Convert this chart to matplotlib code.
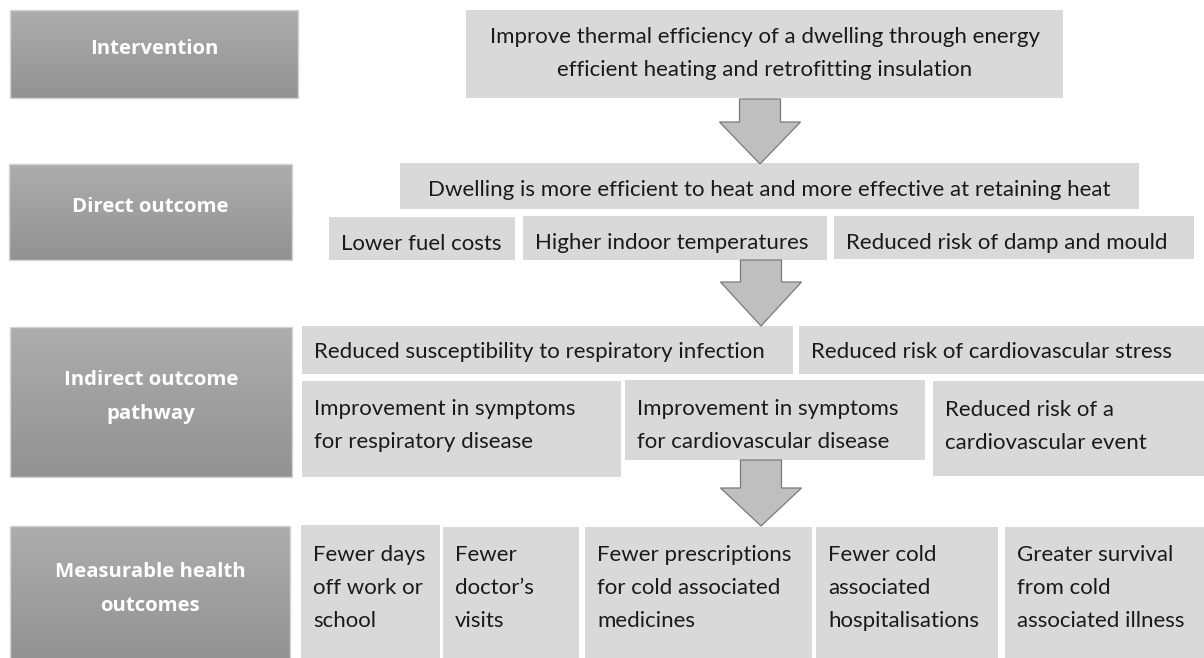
import numpy as np
import matplotlib
matplotlib.use("Agg")
import matplotlib.pyplot as plt
from matplotlib.patches import Rectangle, Polygon
from matplotlib.colors import LinearSegmentedColormap

# ── Content ──────────────────────────────────────────────────────────────────
stage_labels = [
    "Intervention",
    "Direct outcome",
    "Indirect outcome\npathway",
    "Measurable health\noutcomes",
]

intervention_text = ["Improve thermal efficiency of a dwelling through energy\nefficient heating and retrofitting insulation"]
direct_text = [
    "Dwelling is more efficient to heat and more effective at retaining heat",
    "Lower fuel costs",
    "Higher indoor temperatures",
    "Reduced risk of damp and mould",
]
indirect_text = [
    "Reduced susceptibility to respiratory infection",
    "Reduced risk of cardiovascular stress",
    "Improvement in symptoms\nfor respiratory disease",
    "Improvement in symptoms\nfor cardiovascular disease",
    "Reduced risk of a\ncardiovascular event",
]
health_text = [
    "Fewer days\noff work or\nschool",
    "Fewer\ndoctor\u2019s\nvisits",
    "Fewer prescriptions\nfor cold associated\nmedicines",
    "Fewer cold\nassociated\nhospitalisations",
    "Greater survival\nfrom cold\nassociated illness",
]

# ── Layout (pixels, origin top-left) ─────────────────────────────────────────
W, H = 1204, 658
stage_boxes = [(10, 10, 298, 98), (9, 164, 292, 260), (10, 327, 292, 477), (10, 526, 290, 662)]

# (x0, y0, x1, y1, align, first-line centre offset)
intervention_boxes = [(466, 10, 1063, 98, "center", 27)]
direct_boxes = [
    (400, 163, 1139, 209, "center", 27),
    (329, 217, 515, 260, "left", 27),
    (523, 216, 827, 260, "left", 27),
    (834, 216, 1194, 259, "left", 27),
]
indirect_boxes = [
    (302, 326, 793, 374, "left", 26),
    (799, 326, 1204, 374, "left", 26),
    (302, 381, 621, 477, "left", 28),
    (625, 380, 925, 460, "left", 29),
    (933, 381, 1204, 476, "left", 29),
]
health_boxes = [
    (301, 525, 440, 662, "left", 30),
    (443, 527, 579, 662, "left", 28),
    (585, 527, 812, 662, "left", 28),
    (816, 527, 998, 662, "left", 28),
    (1005, 527, 1204, 662, "left", 28),
]

# arrows: centre x, top y, shaft bottom y, tip y
arrows = [(760, 99, 122, 164), (761, 260, 282, 326), (761, 460, 488, 526)]

LINE = 33
PAD = 12
BOX_FILL = "#d9d9d9"
TEXT_DARK = "#1a1a1a"
BODY_FONT = ["Lato", "DejaVu Sans"]

grad = LinearSegmentedColormap.from_list("stage", ["#adadad", "#929292"])

fig = plt.figure(figsize=(W / 100, H / 100), dpi=100)
ax = fig.add_axes([0, 0, 1, 1])
ax.set_xlim(0, W)
ax.set_ylim(H, 0)
ax.axis("off")

# ── Stage boxes (grey gradient, white bold text) ─────────────────────────────
for (x0, y0, x1, y1), label in zip(stage_boxes, stage_labels):
    ax.imshow(np.linspace(0, 1, 128)[:, None], cmap=grad, aspect="auto",
              extent=(x0, x1, y1, y0), origin="upper", zorder=1)
    ax.add_patch(Rectangle((x0, y0), x1 - x0, y1 - y0, fill=False,
                           edgecolor="#d4d4d4", lw=1, zorder=2))
    lines = label.split("\n")
    cy = (y0 + y1) / 2 - 5 - (len(lines) - 1) * 17
    for i, ln in enumerate(lines):
        ax.text((x0 + x1) / 2, cy + i * 34, ln, ha="center", va="center",
                color="white", fontsize=14.7, fontweight="bold",
                family=["Open Sans", "DejaVu Sans"], zorder=3)


def draw_boxes(boxes, texts):
    for (x0, y0, x1, y1, align, off), txt in zip(boxes, texts):
        ax.add_patch(Rectangle((x0, y0), x1 - x0, y1 - y0, facecolor=BOX_FILL,
                               edgecolor="none", zorder=1))
        for i, ln in enumerate(txt.split("\n")):
            if align == "center":
                tx, ha = (x0 + x1) / 2, "center"
            else:
                tx, ha = x0 + PAD, "left"
            ax.text(tx, y0 + off + i * LINE, ln, ha=ha, va="center",
                    color=TEXT_DARK, fontsize=16, family=BODY_FONT, zorder=3)


draw_boxes(intervention_boxes, [intervention_text[0]])
draw_boxes(direct_boxes, direct_text)
draw_boxes(indirect_boxes, indirect_text)
draw_boxes(health_boxes, health_text)

# ── Down arrows ──────────────────────────────────────────────────────────────
for cx, ytop, yneck, ytip in arrows:
    sw, hw = 20.5, 40.5
    pts = [(cx - sw, ytop), (cx + sw, ytop), (cx + sw, yneck), (cx + hw, yneck),
           (cx, ytip), (cx - hw, yneck), (cx - sw, yneck)]
    ax.add_patch(Polygon(pts, closed=True, facecolor="#bfbfbf",
                         edgecolor="#7a7a7a", lw=0.9, zorder=4))

fig.savefig("out.png", dpi=100, facecolor="white")
